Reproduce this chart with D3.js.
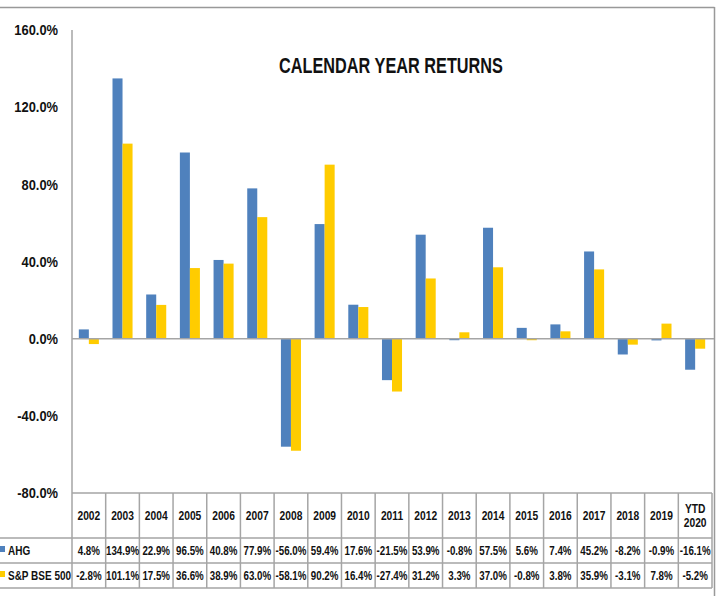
<!DOCTYPE html>
<html>
<head>
<meta charset="utf-8">
<script src="https://cdnjs.cloudflare.com/ajax/libs/d3/7.8.5/d3.min.js"></script>
<style>
  body { margin: 0; background: #fff; }
  svg { display: block; }
  text { font-family: "Liberation Sans", Arial, sans-serif; font-weight: bold; fill: #111; }
</style>
</head>
<body>
<svg></svg>
<script>
// chart values
const years = ['2002', '2003', '2004', '2005', '2006', '2007', '2008', '2009', '2010', '2011',
  '2012', '2013', '2014', '2015', '2016', '2017', '2018', '2019', 'YTD 2020'];
const ahg = [4.8, 134.9, 22.9, 96.5, 40.8, 77.9, -56.0, 59.4, 17.6, -21.5,
  53.9, -0.8, 57.5, 5.6, 7.4, 45.2, -8.2, -0.9, -16.1];
const bse = [-2.8, 101.1, 17.5, 36.6, 38.9, 63.0, -58.1, 90.2, 16.4, -27.4,
  31.2, 3.3, 37.0, -0.8, 3.8, 35.9, -3.1, 7.8, -5.2];
const seriesNames = ['AHG', 'S&P BSE 500'];
const seriesColors = ['#4f81bd', '#ffcc00'];
const yTicks = [-80, -40, 0, 40, 80, 120, 160];

const width = 721;
const height = 596;
const gridColor = '#a5a5a5';

const svg = d3.select('svg')
  .attr('width', width)
  .attr('height', height);

const x = d3.scaleBand().domain(years).range([72, 712]);
const x1 = d3.scaleBand().domain([0, 1]).range([0, x.bandwidth()]).paddingOuter(0.68);
const y = d3.scaleLinear().domain([-80, 160]).range([493, 30]);

const fmt = v => v.toFixed(1) + '%';

// the original font is a narrow one, so text gets squeezed horizontally
const label = (parent, px, py, str, size, k, anchor = 'middle') =>
  parent.append('text')
    .attr('transform', `translate(${px},${py}) scale(${k},1)`)
    .attr('text-anchor', anchor)
    .style('font-size', size + 'px')
    .text(str);

// outer frame (top and right visible)
svg.append('line').attr('x1', 0).attr('x2', 714.5).attr('y1', 7.5).attr('y2', 7.5)
  .attr('stroke', '#999').attr('stroke-width', 1.5);
svg.append('line').attr('x1', 714.5).attr('x2', 714.5).attr('y1', 7).attr('y2', height)
  .attr('stroke', '#999').attr('stroke-width', 1.5);

// title
label(svg, 391, 73, 'CALENDAR YEAR RETURNS', 22, 0.74);

// y axis labels
const yAxis = d3.axisLeft(y).tickValues(yTicks).tickSize(0).tickPadding(14).tickFormat(fmt);
const ya = svg.append('g').attr('transform', 'translate(72,0)').call(yAxis);
ya.select('.domain').remove();
ya.selectAll('text')
  .style('font-size', '15px')
  .style('font-family', '"Liberation Sans", Arial, sans-serif')
  .attr('fill', '#111')
  .attr('x', -14 / 0.86)
  .attr('transform', 'scale(0.86,1)');

// bars
const rows = years.map((yr, i) => ({ yr, vals: [ahg[i], bse[i]] }));
const groups = svg.append('g').selectAll('g')
  .data(rows)
  .enter()
  .append('g')
  .attr('transform', d => `translate(${x(d.yr)},0)`);

groups.selectAll('rect')
  .data(d => d.vals.map((v, k) => ({ v, k })))
  .enter()
  .append('rect')
  .attr('x', d => x1(d.k))
  .attr('width', x1.bandwidth())
  .attr('y', d => y(Math.max(0, d.v)))
  .attr('height', d => Math.abs(y(d.v) - y(0)))
  .attr('fill', d => seriesColors[d.k]);

// y axis line and zero line
svg.append('line').attr('x1', 72).attr('x2', 72).attr('y1', 30).attr('y2', 588)
  .attr('stroke', gridColor).attr('stroke-width', 1.5);
svg.append('line').attr('x1', 72).attr('x2', 714).attr('y1', y(0)).attr('y2', y(0))
  .attr('stroke', gridColor).attr('stroke-width', 1.5);

// data table
const table = svg.append('g');
const rowLines = [493, 538, 563, 588];
table.append('line').attr('x1', 72).attr('x2', 712).attr('y1', rowLines[0]).attr('y2', rowLines[0])
  .attr('stroke', gridColor).attr('stroke-width', 1.5);
table.selectAll('.hline')
  .data(rowLines.slice(1))
  .enter()
  .append('line')
  .attr('x1', 0).attr('x2', 712)
  .attr('y1', d => d).attr('y2', d => d)
  .attr('stroke', gridColor).attr('stroke-width', 1.5);
table.selectAll('.vline')
  .data(years)
  .enter()
  .append('line')
  .attr('x1', d => x(d) + x.bandwidth()).attr('x2', d => x(d) + x.bandwidth())
  .attr('y1', 493).attr('y2', 588)
  .attr('stroke', gridColor).attr('stroke-width', 1.5);

// header row (YTD 2020 wraps on two lines)
const cx = d => x(d) + x.bandwidth() / 2;
years.forEach(d => {
  const parts = d.split(' ');
  const top = parts.length > 1 ? 513 : 520;
  parts.forEach((p, i) => label(table, cx(d), top + i * 14, p, 12.5, 0.82));
});

// value rows with legend keys
[ahg, bse].forEach((vals, k) => {
  const rowY = rowLines[k + 1] + 17;
  table.append('rect')
    .attr('x', 0).attr('y', rowY - 9).attr('width', 5).attr('height', 6)
    .attr('fill', seriesColors[k]);
  label(table, 8, rowY, seriesNames[k], 12.5, 0.8, 'start');
  vals.forEach((v, i) => label(table, cx(years[i]), rowY, fmt(v), 12.5, 0.78));
});
</script>
</body>
</html>
